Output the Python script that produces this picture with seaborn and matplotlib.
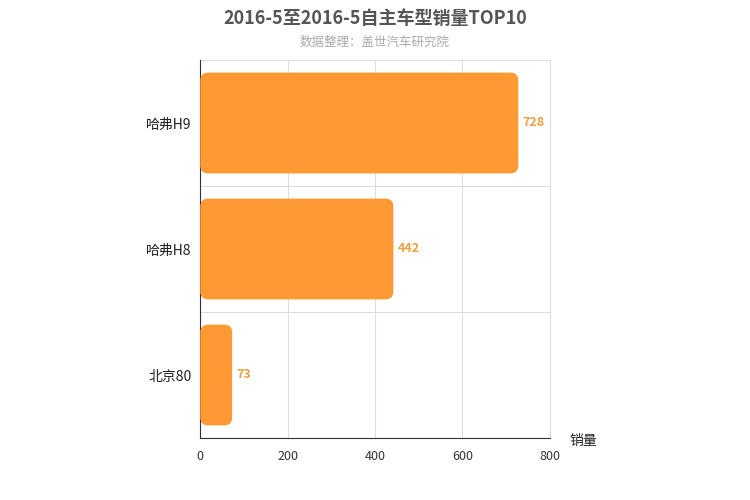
import matplotlib
matplotlib.use("Agg")
import matplotlib.pyplot as plt
import seaborn as sns
import pandas as pd
from matplotlib.patches import FancyBboxPatch

categories = ["哈弗H9", "哈弗H8", "北京80"]
values = [728, 442, 73]
xticks = [0, 200, 400, 600, 800]

sns.set_style("white")
plt.rcParams['font.family'] = ['Noto Sans CJK SC', 'DejaVu Sans']

fig = plt.figure(figsize=(7.5, 5), dpi=100)
ax = fig.add_axes([0.267, 0.124, 0.466, 0.756])
df = pd.DataFrame({"cat": categories, "val": values})
sns.barplot(data=df, y="cat", x="val", color="#FF9933", saturation=1, width=0.8, ax=ax)

# replace bars with rounded ones
for p in list(ax.patches):
    x, y, w, h = p.get_x(), p.get_y(), p.get_width(), p.get_height()
    p.remove()
    ax.add_patch(FancyBboxPatch((x, y), w, h,
                                boxstyle="round,pad=0,rounding_size=18",
                                mutation_aspect=0.00347,
                                fc="#FF9933", ec="none", zorder=3))
    ax.text(x + w + 10, y + h / 2, f"{int(w)}", va="center", ha="left",
            color="#E8A040", fontsize=9, fontweight="bold")

ax.set_xlim(0, 800)
ax.set_ylim(2.5, -0.5)
ax.set_xticks(xticks)
ax.set_xticklabels([str(t) for t in xticks], fontsize=9, color="#333")
ax.set_yticks(range(3))
ax.set_yticklabels(categories, fontsize=10, color="#222")
ax.set_yticks([-0.5, 0.5, 1.5, 2.5], minor=True)
ax.tick_params(axis="y", which="major", length=0, pad=6)
ax.tick_params(axis="y", which="minor", length=5, color="#333", direction="out")
ax.tick_params(axis="x", length=5, color="#333", direction="out")
ax.grid(True, axis="x", color="#dddddd", lw=0.8, zorder=0)
ax.grid(True, axis="y", which="minor", color="#dddddd", lw=0.8, zorder=0)
ax.set_axisbelow(True)
ax.set_xlabel("")
ax.set_ylabel("")
for s in ["top"]:
    ax.spines[s].set_visible(False)
ax.spines["right"].set_color("#dddddd")
ax.spines["left"].set_color("#333")
ax.spines["bottom"].set_color("#333")

fig.text(0.778, 0.118, "销量", fontsize=10, color="#222", ha="center", va="center")
fig.text(0.5, 0.962, "2016-5至2016-5自主车型销量TOP10", fontsize=13, fontweight="bold",
         color="#555555", ha="center", va="center")
fig.text(0.5, 0.916, "数据整理：盖世汽车研究院", fontsize=9, color="#aaaaaa",
         ha="center", va="center")
fig.savefig("out.png", dpi=100)
